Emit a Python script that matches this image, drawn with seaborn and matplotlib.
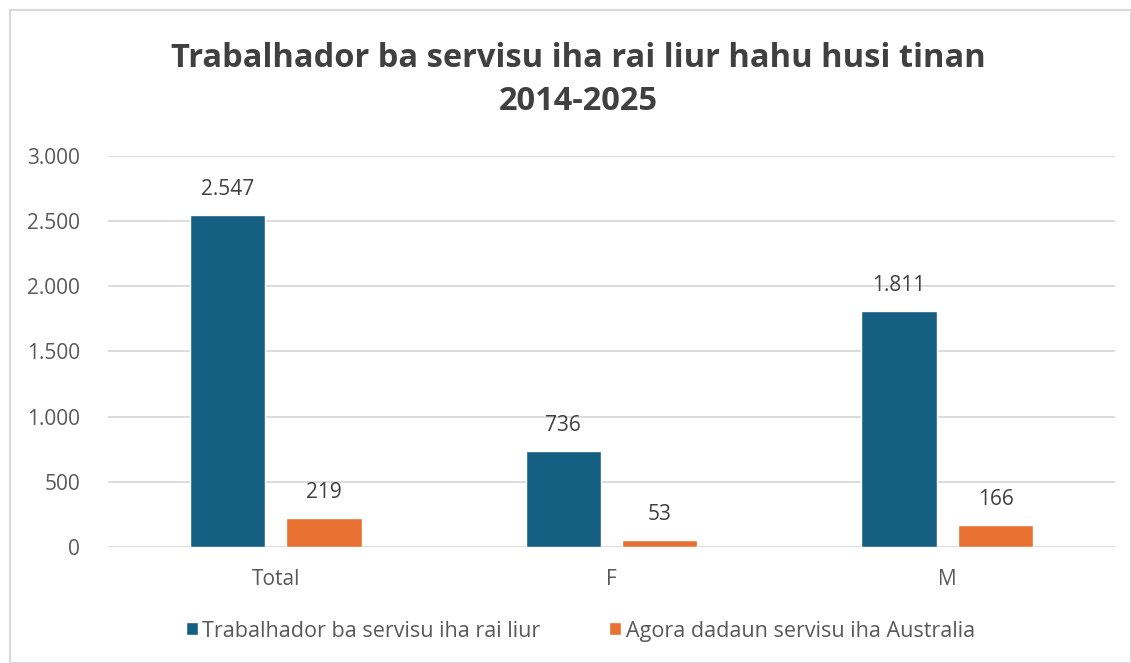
import pandas as pd
import matplotlib.pyplot as plt
import matplotlib.ticker as mticker
from matplotlib.patches import Rectangle
import seaborn as sns

# Chart data
categories = ['Total', 'F', 'M']
series_names = ['Trabalhador ba servisu iha rai liur', 'Agora dadaun servisu iha Australia']
trabalhador = [2547, 736, 1811]
australia = [219, 53, 166]
colors = ['#156082', '#E97132']

# Long-form table for seaborn
df = pd.DataFrame({
    'Kategoria': categories * 2,
    'Serie': [series_names[0]] * 3 + [series_names[1]] * 3,
    'Valor': trabalhador + australia,
})

sns.set_style('white')
plt.rcParams['font.family'] = ['Open Sans', 'DejaVu Sans']

fig = plt.figure(figsize=(11.31, 6.63), dpi=100)
ax = fig.add_axes([0.0955, 0.175, 0.8905, 0.5897])

sns.barplot(data=df, x='Kategoria', y='Valor', hue='Serie', order=categories,
            hue_order=series_names, palette=colors, width=0.575, gap=0.22,
            saturation=1, ax=ax, legend=True)

# Value labels
def fmt(v):
    return f'{v:,.0f}'.replace(',', '.')

for cont in ax.containers:
    ax.bar_label(cont, labels=[fmt(v) for v in cont.datavalues], padding=11,
                 fontsize=15, color='#404040')

ax.set_ylim(0, 3000)
ax.set_xlim(-0.5, 2.5)
ax.yaxis.set_major_locator(mticker.MultipleLocator(500))
ax.yaxis.set_major_formatter(mticker.FuncFormatter(lambda v, p: fmt(v)))
ax.grid(axis='y', color='#d9d9d9', linewidth=1.3)
ax.set_axisbelow(True)
for s in ['top', 'right', 'left', 'bottom']:
    ax.spines[s].set_visible(False)
ax.tick_params(axis='y', length=0, pad=20, labelsize=15, labelcolor='#595959')
ax.tick_params(axis='x', length=0, pad=16, labelsize=15, labelcolor='#595959')
ax.set_xlabel('')
ax.set_ylabel('')

fig.text(0.511, 0.937, 'Trabalhador ba servisu iha rai liur hahu husi tinan\n2014-2025',
         ha='center', va='top', fontsize=23.5, fontweight='bold', color='#404040',
         linespacing=1.42)

leg = ax.legend(loc='center', bbox_to_anchor=(0.469, -0.215), ncol=2, frameon=False,
                fontsize=15.5, handlelength=0.55, handleheight=0.55, handletextpad=0.2,
                columnspacing=3.2)
for t in leg.get_texts():
    t.set_color('#595959')

# Chart border
fig.patches.append(Rectangle((10 / 1131, 0), 1 - 10 / 1131, 1 - 10 / 663,
                             transform=fig.transFigure, fill=False,
                             edgecolor='#d9d9d9', linewidth=1.5))

fig.savefig('out.png', dpi=100)
